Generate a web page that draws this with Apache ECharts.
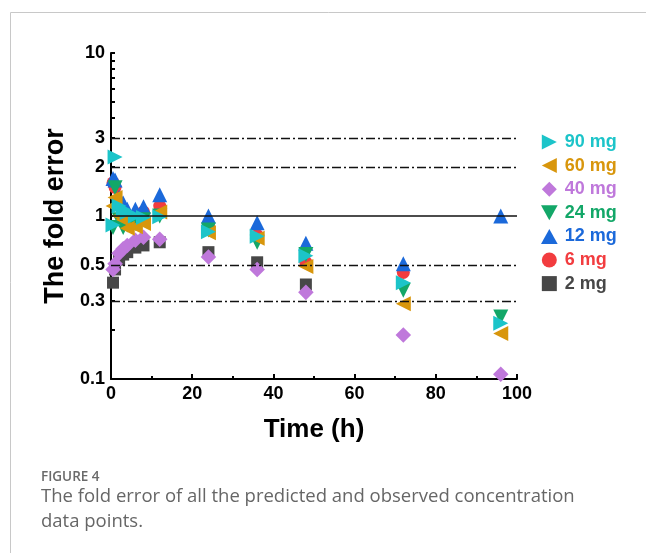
<!DOCTYPE html>
<html>
<head>
<meta charset="utf-8">
<script src="https://cdn.jsdelivr.net/npm/echarts@6/dist/echarts.min.js"></script>
<style>
  html, body { margin: 0; padding: 0; background: #fff; }
  #main { width: 646px; height: 553px; }
</style>
</head>
<body>
<div id="main"></div>
<script>
// sampling times (h)
const times = [0.5, 1, 2, 3, 4, 6, 8, 12, 24, 36, 48, 72, 96]

// fold error per dose
const fe90 = [0.88, 2.3, 1.15, 1.1, 1.05, 1.0, 0.98, 0.99, 0.80, 0.75, 0.57, 0.39, 0.22]
const fe60 = [1.15, 1.3, 1.0, 0.95, 0.84, 0.86, 0.9, 1.06, 0.79, 0.73, 0.49, 0.29, 0.19]
const fe40 = [0.47, 0.51, 0.59, 0.63, 0.66, 0.71, 0.74, 0.72, 0.56, 0.47, 0.34, 0.186, 0.107]
const fe24 = [0.85, 1.49, 0.95, 0.85, 0.88, 0.9, 0.95, 1.0, 0.82, 0.69, 0.58, 0.35, 0.24]
const fe12 = [1.7, 1.66, 1.3, 1.2, 1.1, 1.1, 1.14, 1.35, 1.0, 0.91, 0.68, 0.51, 1.0]
const fe6 = [1.6, 1.5, 1.2, 1.1, 1.0, 1.0, 1.06, 1.15, 0.855, 0.76, 0.52, 0.45]
const fe2 = [0.39, 0.47, 0.54, 0.58, 0.6, 0.64, 0.66, 0.69, 0.6, 0.52, 0.38]

const yTickLabels = [0.1, 0.3, 0.5, 1, 2, 3, 10]
const refDashed = [3, 2, 0.5, 0.3]
const refSolid = [1]

const legendNames = ['90 mg', '60 mg', '40 mg', '24 mg', '12 mg', '6 mg', '2 mg']

const colors = {
  '90 mg': '#1CC4C9',
  '60 mg': '#D8960C',
  '40 mg': '#BF78DB',
  '24 mg': '#13A768',
  '12 mg': '#1B69DA',
  '6 mg': '#F23C3F',
  '2 mg': '#474747'
}

// legend icons (legend does not follow symbolRotate)
const legendIcons = {
  '90 mg': 'path://M0,0L10,5L0,10Z',
  '60 mg': 'path://M10,0L0,5L10,10Z',
  '40 mg': 'path://M5,0L10,5L5,10L0,5Z',
  '24 mg': 'path://M0,1L10,1L5,10Z',
  '12 mg': 'path://M5,0L10,9L0,9Z',
  '6 mg': 'circle',
  '2 mg': 'path://M1,1L9,1L9,9L1,9Z'
}

function pairs (vals) {
  return vals.map((v, i) => [times[i], v])
}

function mk (name, vals, symbol, rotate, size) {
  return {
    name: name,
    type: 'scatter',
    data: pairs(vals),
    symbol: symbol,
    symbolRotate: rotate,
    symbolSize: size,
    itemStyle: { color: colors[name], opacity: 1 }
  }
}

// plotting order: small dose first, so 90 mg ends on top
const series = [
  mk('2 mg', fe2, 'rect', 0, 12),
  mk('6 mg', fe6, 'circle', 0, 13),
  mk('12 mg', fe12, 'triangle', 0, 15),
  mk('24 mg', fe24, 'triangle', 180, 15),
  mk('40 mg', fe40, 'rect', 45, 11),
  mk('60 mg', fe60, 'triangle', 90, 15),
  mk('90 mg', fe90, 'triangle', -90, 15)
]

// reference lines
series[0].markLine = {
  silent: true,
  symbol: 'none',
  label: { show: false },
  animation: false,
  data: refDashed.map(v => ({
    yAxis: v,
    lineStyle: { color: '#111', width: 1.3, type: [9, 3, 2, 3] }
  })).concat(refSolid.map(v => ({
    yAxis: v,
    lineStyle: { color: '#111', width: 1.5, type: 'solid' }
  })))
}

const myChart = echarts.init(document.getElementById('main'))
myChart.setOption({
  animation: false,
  grid: { left: 111, right: 129, top: 53, bottom: 174 },
  legend: {
    orient: 'vertical',
    left: 536,
    top: 128,
    itemWidth: 21,
    itemHeight: 15,
    itemGap: 5.6,
    data: legendNames.map(n => ({
      name: n,
      icon: legendIcons[n],
      textStyle: { color: colors[n] }
    })),
    textStyle: {
      fontFamily: 'Liberation Sans, Arial',
      fontWeight: 'bold',
      fontSize: 18
    }
  },
  xAxis: {
    type: 'value',
    min: 0,
    max: 100,
    interval: 20,
    name: 'Time (h)',
    nameLocation: 'middle',
    nameGap: 38,
    nameTextStyle: {
      fontFamily: 'Liberation Sans, Arial',
      fontWeight: 'bold',
      fontSize: 26,
      color: '#000'
    },
    axisLine: { onZero: false, lineStyle: { color: '#000', width: 2 } },
    axisTick: { inside: true, length: 5, lineStyle: { color: '#000', width: 2 } },
    minorTick: { show: true, splitNumber: 2, length: 3, lineStyle: { color: '#000', width: 2 } },
    axisLabel: {
      fontFamily: 'Liberation Sans, Arial',
      fontWeight: 'bold',
      fontSize: 18,
      color: '#000',
      margin: 6
    },
    splitLine: { show: false }
  },
  yAxis: {
    type: 'log',
    logBase: 10,
    min: 0.1,
    max: 10,
    name: 'The fold error',
    nameLocation: 'middle',
    nameGap: 38,
    nameTextStyle: {
      fontFamily: 'Liberation Sans, Arial',
      fontWeight: 'bold',
      fontSize: 27,
      color: '#000'
    },
    axisLine: { show: true, lineStyle: { color: '#000', width: 2 } },
    axisTick: {
      show: true,
      inside: true,
      length: 4,
      customValues: [0.1, 0.2, 0.3, 0.5, 1, 2, 3, 4, 5, 6, 7, 8, 9, 10],
      lineStyle: { color: '#000', width: 2 }
    },
    axisLabel: {
      customValues: yTickLabels,
      fontFamily: 'Liberation Sans, Arial',
      fontWeight: 'bold',
      fontSize: 18,
      color: '#000',
      margin: 6
    },
    splitLine: { show: false }
  },
  graphic: [
    { type: 'line', shape: { x1: 10.5, y1: 12.5, x2: 646, y2: 12.5 }, style: { stroke: '#c8c8c8', lineWidth: 1 } },
    { type: 'line', shape: { x1: 10.5, y1: 12.5, x2: 10.5, y2: 553 }, style: { stroke: '#c8c8c8', lineWidth: 1 } },
    {
      type: 'text', left: 41, top: 470,
      style: { text: 'FIGURE 4', fill: '#6a6a6a', font: '600 13.5px "Open Sans", "Noto Sans", sans-serif' }
    },
    {
      type: 'text', left: 41, top: 484,
      style: {
        text: 'The fold error of all the predicted and observed concentration\ndata points.',
        fill: '#666',
        font: '18.5px "Open Sans", "Noto Sans", sans-serif',
        lineHeight: 25
      }
    }
  ],
  series: series
})
</script>
</body>
</html>
